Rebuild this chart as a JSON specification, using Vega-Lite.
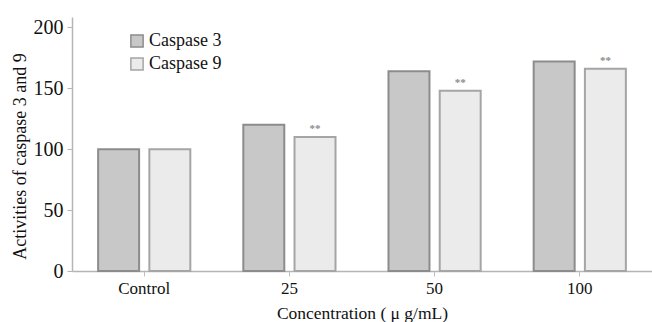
{
  "$schema": "https://vega.github.io/schema/vega-lite/v6.json",
  "autosize": "none",
  "width": 580,
  "height": 254,
  "padding": {"left": 72, "top": 17, "right": 0, "bottom": 51},
  "background": "white",
  "config": {
    "view": {"stroke": null},
    "font": "Liberation Serif"
  },
  "data": {
    "values": [
      {"conc": "Control", "enzyme": "Caspase 3", "activity": 100, "sig": ""},
      {"conc": "Control", "enzyme": "Caspase 9", "activity": 100, "sig": ""},
      {"conc": "25", "enzyme": "Caspase 3", "activity": 120, "sig": ""},
      {"conc": "25", "enzyme": "Caspase 9", "activity": 110, "sig": "**"},
      {"conc": "50", "enzyme": "Caspase 3", "activity": 164, "sig": ""},
      {"conc": "50", "enzyme": "Caspase 9", "activity": 148, "sig": "**"},
      {"conc": "100", "enzyme": "Caspase 3", "activity": 172, "sig": ""},
      {"conc": "100", "enzyme": "Caspase 9", "activity": 166, "sig": "**"}
    ]
  },
  "encoding": {
    "x": {
      "field": "conc",
      "type": "nominal",
      "sort": ["Control", "25", "50", "100"],
      "scale": {"paddingInner": 0.365, "paddingOuter": 0.18},
      "axis": {
        "title": "Concentration ( μ g/mL)",
        "labelAngle": 0,
        "labelFont": "Liberation Serif",
        "labelFontSize": 17,
        "labelColor": "#111",
        "labelPadding": 4,
        "titleFont": "Liberation Serif",
        "titleFontSize": 17.5,
        "titleFontWeight": "normal",
        "titleColor": "#111",
        "titlePadding": 8,
        "domainColor": "#b5b5b5",
        "domainWidth": 1.5,
        "tickColor": "#c0c0c0",
        "tickSize": 5,
        "tickWidth": 1
      }
    },
    "xOffset": {
      "field": "enzyme",
      "type": "nominal",
      "scale": {"paddingInner": 0.2}
    },
    "y": {
      "field": "activity",
      "type": "quantitative",
      "scale": {"domain": [0, 208.5], "nice": false},
      "axis": {
        "title": "Activities of caspase 3 and 9",
        "values": [0, 50, 100, 150, 200],
        "grid": false,
        "labelFont": "Liberation Serif",
        "labelFontSize": 20,
        "labelColor": "#111",
        "labelPadding": 4,
        "titleFont": "Liberation Serif",
        "titleFontSize": 18,
        "titleFontWeight": "normal",
        "titleColor": "#111",
        "titlePadding": 4,
        "titleY": 139,
        "domainColor": "#b5b5b5",
        "domainWidth": 1.5,
        "tickColor": "#b5b5b5",
        "tickSize": 5
      }
    }
  },
  "layer": [
    {
      "mark": {"type": "bar", "strokeWidth": 2},
      "encoding": {
        "fill": {
          "field": "enzyme",
          "type": "nominal",
          "scale": {"domain": ["Caspase 3", "Caspase 9"], "range": ["#c8c8c8", "#ebebeb"]},
          "legend": {
            "title": null,
            "orient": "none",
            "legendX": 56,
            "legendY": 15,
            "symbolType": "square",
            "symbolSize": 150,
            "symbolStrokeColor": "#999",
            "symbolStrokeWidth": 1.5,
            "labelFont": "Liberation Serif",
            "labelFontSize": 18,
            "labelColor": "#111",
            "labelOffset": 3,
            "rowPadding": 3
          }
        },
        "stroke": {
          "field": "enzyme",
          "type": "nominal",
          "scale": {"domain": ["Caspase 3", "Caspase 9"], "range": ["#8c8c8c", "#a5a5a5"]},
          "legend": null
        }
      }
    },
    {
      "transform": [{"filter": "datum.sig != ''"}],
      "mark": {"type": "text", "dy": -8, "fontSize": 11, "fontWeight": "bold", "color": "#8a8a8a", "baseline": "middle", "font": "Liberation Serif"},
      "encoding": {
        "text": {"field": "sig"}
      }
    }
  ]
}
